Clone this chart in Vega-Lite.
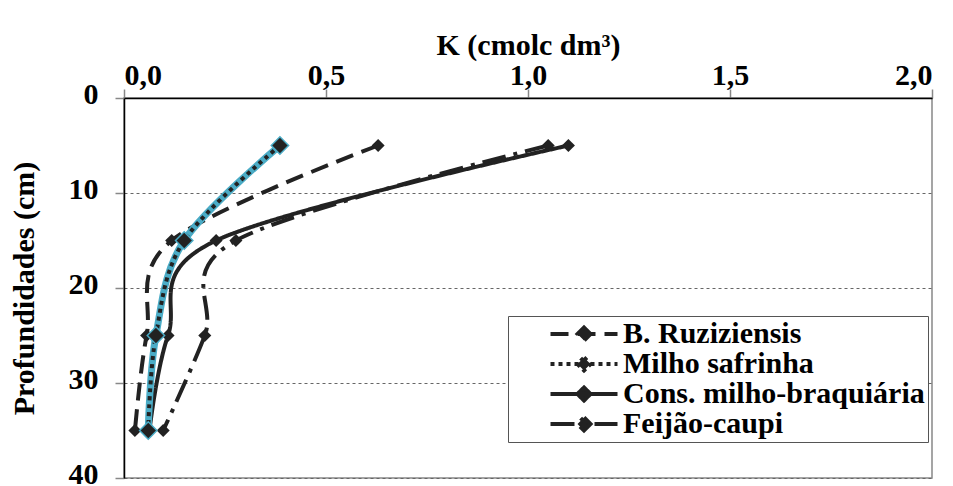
{
  "$schema": "https://vega.github.io/schema/vega-lite/v6.json",
  "width": 808,
  "height": 380,
  "autosize": {"type": "none"},
  "padding": {"left": 124, "top": 98, "right": 21, "bottom": 8},
  "background": "white",
  "config": {
    "font": "Liberation Serif",
    "view": {"stroke": "#888", "strokeWidth": 1.5}
  },
  "datasets": {
    "k": [
      {"serie": "B. Ruziziensis", "prof": 5, "k": 0.629},
      {"serie": "B. Ruziziensis", "prof": 15, "k": 0.118},
      {"serie": "B. Ruziziensis", "prof": 25, "k": 0.056},
      {"serie": "B. Ruziziensis", "prof": 35, "k": 0.027},
      {"serie": "Milho safrinha", "prof": 5, "k": 0.386},
      {"serie": "Milho safrinha", "prof": 15, "k": 0.149},
      {"serie": "Milho safrinha", "prof": 25, "k": 0.079},
      {"serie": "Milho safrinha", "prof": 35, "k": 0.060},
      {"serie": "Cons. milho-braquiária", "prof": 5, "k": 1.10},
      {"serie": "Cons. milho-braquiária", "prof": 15, "k": 0.228},
      {"serie": "Cons. milho-braquiária", "prof": 25, "k": 0.109},
      {"serie": "Cons. milho-braquiária", "prof": 35, "k": 0.063},
      {"serie": "Feijão-caupi", "prof": 5, "k": 1.05},
      {"serie": "Feijão-caupi", "prof": 15, "k": 0.277},
      {"serie": "Feijão-caupi", "prof": 25, "k": 0.20},
      {"serie": "Feijão-caupi", "prof": 35, "k": 0.097}
    ]
  },
  "layer": [
    {
      "data": {"name": "k"},
      "transform": [{"filter": "datum.serie !== 'Milho safrinha'"}],
      "mark": {"type": "line", "interpolate": "cardinal", "strokeWidth": 4, "color": "#222"},
      "encoding": {
        "x": {
          "field": "k", "type": "quantitative",
          "scale": {"domain": [0, 2], "nice": false, "zero": false},
          "axis": {
            "orient": "top",
            "values": [0, 0.5, 1, 1.5, 2],
            "labelExpr": "replace(format(datum.value, '.1f'), '.', ',')",
            "labelFont": "Liberation Serif",
            "labelFontSize": 30, "labelFontWeight": "bold", "labelColor": "black",
            "labelPadding": -1,
            "title": "K (cmolc dm³)",
            "titleFont": "Liberation Serif",
            "titleFontSize": 30, "titleFontWeight": "bold", "titleColor": "black",
            "titlePadding": 0,
            "grid": false,
            "domainColor": "black", "domainWidth": 1.5,
            "tickColor": "#888", "tickSize": 9, "tickWidth": 1.5
          }
        },
        "y": {
          "field": "prof", "type": "quantitative",
          "scale": {"domain": [0, 40], "reverse": true, "nice": false},
          "axis": {
            "values": [0, 10, 20, 30, 40],
            "labelFont": "Liberation Serif",
            "labelFontSize": 30, "labelFontWeight": "bold", "labelColor": "black",
            "labelPadding": 17,
            "labelOffset": -4,
            "title": "Profundidades (cm)",
            "titleFont": "Liberation Serif",
            "titleFontSize": 30, "titleFontWeight": "bold", "titleColor": "black",
            "titlePadding": 29,
            "grid": true, "gridDash": [3, 3], "gridColor": "#666", "gridWidth": 1,
            "domainColor": "black", "domainWidth": 1.5,
            "tickColor": "#888", "tickSize": 9, "tickWidth": 1.5
          }
        },
        "order": {"field": "prof", "type": "quantitative"},
        "strokeDash": {
          "field": "serie", "type": "nominal",
          "scale": {
            "domain": ["B. Ruziziensis", "Milho safrinha", "Cons. milho-braquiária", "Feijão-caupi"],
            "range": [[18, 9], [4, 4], [1, 0], [24, 8, 4, 8]]
          },
          "legend": {
            "orient": "none",
            "legendX": 384,
            "legendY": 218,
            "title": null,
            "symbolType": "M-3.35,0L3.35,0M0,-0.65L0.65,0L0,0.65L-0.65,0Z",
            "symbolSize": 400,
            "symbolStrokeWidth": 4,
            "symbolStrokeColor": "#222",
            "symbolFillColor": "#222",
            "symbolOffset": 58,
            "labelOffset": 24,
            "labelFont": "Liberation Serif",
            "labelFontSize": 30,
            "labelFontWeight": "bold",
            "labelColor": "black",
            "labelLimit": 500,
            "rowPadding": -5,
            "padding": 3,
            "strokeColor": "#555",
            "fillColor": "white",
            "encode": {
              "symbols": {"update": {"fill": {"value": "#222"}, "stroke": {"value": "#222"}}}
            }
          }
        }
      }
    },
    {
      "data": {"name": "k"},
      "transform": [{"filter": "datum.serie !== 'Milho safrinha'"}],
      "mark": {"type": "point", "shape": "diamond", "filled": true, "size": 170, "color": "#222", "opacity": 1},
      "encoding": {
        "x": {"field": "k", "type": "quantitative"},
        "y": {"field": "prof", "type": "quantitative"}
      }
    },
    {
      "data": {"name": "k"},
      "transform": [{"filter": "datum.serie === 'Milho safrinha'"}],
      "mark": {"type": "line", "interpolate": "cardinal", "strokeWidth": 7, "color": "#4bacc6"},
      "encoding": {
        "x": {"field": "k", "type": "quantitative"},
        "y": {"field": "prof", "type": "quantitative"},
        "order": {"field": "prof", "type": "quantitative"}
      }
    },
    {
      "data": {"name": "k"},
      "transform": [{"filter": "datum.serie === 'Milho safrinha'"}],
      "mark": {"type": "line", "interpolate": "cardinal", "strokeWidth": 4, "color": "#222"},
      "encoding": {
        "x": {"field": "k", "type": "quantitative"},
        "y": {"field": "prof", "type": "quantitative"},
        "order": {"field": "prof", "type": "quantitative"},
        "strokeDash": {"field": "serie", "type": "nominal"}
      }
    },
    {
      "data": {"name": "k"},
      "transform": [{"filter": "datum.serie === 'Milho safrinha'"}],
      "mark": {"type": "point", "shape": "diamond", "filled": true, "size": 300, "fill": "#222", "stroke": "#4bacc6", "strokeWidth": 1.5, "opacity": 1},
      "encoding": {
        "x": {"field": "k", "type": "quantitative"},
        "y": {"field": "prof", "type": "quantitative"}
      }
    },
    {
      "mark": {"type": "rect", "fill": "white", "stroke": "#aaa", "strokeWidth": 1.5},
      "encoding": {
        "x": {"datum": 1.582, "type": "quantitative"},
        "x2": {"datum": 1.975},
        "y": {"datum": 36.1, "type": "quantitative"},
        "y2": {"datum": 38.7}
      }
    },
    {
      "mark": {"type": "text", "text": "DMS: 0,21", "font": "Liberation Serif", "fontSize": 27, "color": "black", "align": "center", "baseline": "middle"},
      "encoding": {
        "x": {"datum": 1.778, "type": "quantitative"},
        "y": {"datum": 37.5, "type": "quantitative"}
      }
    }
  ]
}
